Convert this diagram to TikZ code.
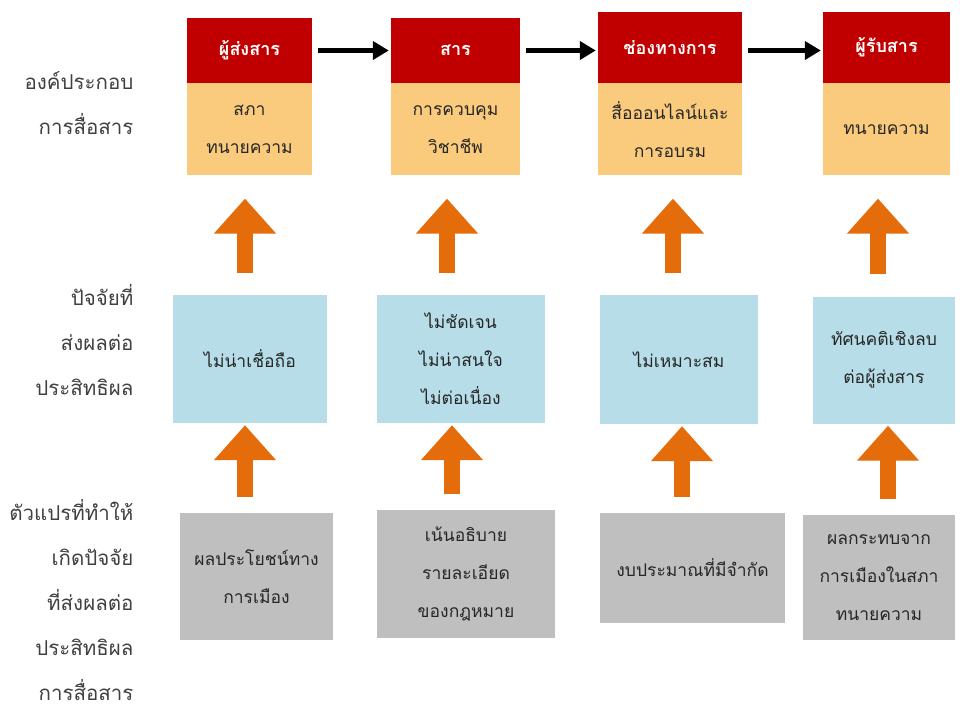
\documentclass[tikz,border=0pt]{standalone}
\usepackage{fontspec}
\newfontfamily\thaifont[Script=Thai]{Loma}
\usetikzlibrary{arrows.meta}
\definecolor{headred}{RGB}{192,0,0}
\definecolor{bodyorange}{RGB}{250,203,124}
\definecolor{factorblue}{RGB}{182,221,232}
\definecolor{causegray}{RGB}{191,191,191}
\definecolor{arroworange}{RGB}{228,108,10}
\definecolor{labelgray}{RGB}{64,64,64}
\newcommand\boxfont{\thaifont\fontsize{17.5}{38}\selectfont}

\begin{document}
\begin{tikzpicture}[x=1pt,y=-1pt,
    head/.style={fill=headred,text=white,inner sep=0pt,align=center,
                 font=\thaifont\bfseries\fontsize{18}{20}\selectfont},
    body/.style={fill=bodyorange,inner sep=0pt,align=center,anchor=north,
                 minimum height=92pt,text=black!85,font=\boxfont},
    factor/.style={fill=factorblue,inner sep=0pt,align=center,text=black!85,font=\boxfont},
    cause/.style={fill=causegray,inner sep=0pt,align=center,text=black!85,font=\boxfont},
    rowlabel/.style={anchor=east,align=right,text=labelgray,
                     font=\thaifont\fontsize{20.5}{45}\selectfont},
    flowarrow/.style={line width=4.5pt,-{Triangle[length=16pt,width=18pt]},
                      shorten <=6pt,shorten >=2pt},
    blockarrow/.style={draw=arroworange,line width=16pt,
                       -{Triangle[length=35pt,width=60pt]}}]
  \fill[white,use as bounding box] (0,0) rectangle (960,711);

  % row labels
  \node[rowlabel] (L1) at (137,103.5) {องค์ประกอบ\\การสื่อสาร};
  \node[rowlabel] (L2) at (137,340) {ปัจจัยที่\\ส่งผลต่อ\\ประสิทธิผล};
  \node[rowlabel] (L3) at (137,600) {ตัวแปรที่ทำให้\\เกิดปัจจัย\\ที่ส่งผลต่อ\\ประสิทธิผล\\การสื่อสาร};

  % communication elements
  \node[head,minimum width=125pt,minimum height=65pt] (H1) at (249.5,50.5) {ผู้ส่งสาร};
  \node[head,minimum width=129pt,minimum height=65pt] (H2) at (455.5,50.5) {สาร};
  \node[head,minimum width=144pt,minimum height=71pt] (H3) at (670,47.5) {ช่องทางการ};
  \node[head,minimum width=127pt,minimum height=71pt] (H4) at (886.5,47.5) {ผู้รับสาร};
  \node[body,minimum width=125pt] (O1) at (H1.south) {สภา\\ทนายความ};
  \node[body,minimum width=129pt] (O2) at (H2.south) {การควบคุม\\วิชาชีพ};
  \node[body,minimum width=144pt] (O3) at (H3.south) {สื่อออนไลน์และ\\การอบรม};
  \node[body,minimum width=127pt] (O4) at (H4.south) {ทนายความ};

  % factors
  \node[factor,minimum width=154pt,minimum height=128pt] (F1) at (250,359) {ไม่น่าเชื่อถือ};
  \node[factor,minimum width=168pt,minimum height=128pt] (F2) at (461,359) {ไม่ชัดเจน\\ไม่น่าสนใจ\\ไม่ต่อเนื่อง};
  \node[factor,minimum width=158pt,minimum height=129pt] (F3) at (679,359.5) {ไม่เหมาะสม};
  \node[factor,minimum width=142pt,minimum height=127pt] (F4) at (884,360) {ทัศนคติเชิงลบ\\ต่อผู้ส่งสาร};

  % variables
  \node[cause,minimum width=153pt,minimum height=127pt] (V1) at (256.5,576.5) {ผลประโยชน์ทาง\\การเมือง};
  \node[cause,minimum width=178pt,minimum height=128pt] (V2) at (466,574) {เน้นอธิบาย\\รายละเอียด\\ของกฎหมาย};
  \node[cause,minimum width=185pt,minimum height=110pt] (V3) at (692.5,568) {งบประมาณที่มีจำกัด};
  \node[cause,minimum width=152pt,minimum height=125pt] (V4) at (879,577.5) {ผลกระทบจาก\\การเมืองในสภา\\ทนายความ};

  \draw[flowarrow] (H1.east) -- (H2.west);
  \draw[flowarrow] (H2.east) -- (H2.east -| H3.west);
  \draw[flowarrow] (H3.east |- H2.east) -- (H4.west |- H2.east);

  \foreach \c/\u/\l in {1/-5/-5,2/-14/-9,3/-6/3,4/-6/4} {
    \draw[blockarrow,shorten <=22pt,shorten >=23pt]
      ([xshift=\u pt]F\c.north) -- ([xshift=\u pt]F\c.north |- O\c.south);
    \draw[blockarrow,shorten <=16pt,shorten >=2pt]
      ([xshift=\l pt]F\c.south |- V\c.north) -- ([xshift=\l pt]F\c.south);
  }
\end{tikzpicture}
\end{document}
